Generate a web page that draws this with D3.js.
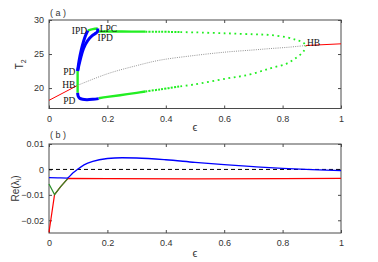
<!DOCTYPE html>
<html><head><meta charset="utf-8">
<script src="https://cdn.jsdelivr.net/npm/d3@7"></script>
<style>body{margin:0;background:#fff}svg{display:block}</style>
</head><body>
<script>
// ---------- data ----------
const epsTicks = [0, 0.2, 0.4, 0.6, 0.8, 1];
const tTicks = [20, 25, 30];
const reTicks = [0.01, 0, -0.01, -0.02];

// panel (a): equilibria
const eqStableLeft = [[0,18.2],[0.098,20.4]];
const eqStableRight = [[0.879,26.25],[1,26.5]];
const eqUnstable = [[0.098,20.4],[0.2,22.1],[0.3,23.3],[0.38,24.1],[0.5,24.8],[0.608,25.3],[0.7,25.6],[0.757,25.8],[0.82,26.0],[0.879,26.25]];
// periodic orbits: stable (green solid), unstable (green dotted), period doubled (blue)
const poVertUp = [[0.098,20.4],[0.098,22.5]];
const poVertDown = [[0.098,20.4],[0.098,19.3]];
const poTopShort = [[0.133,28.45],[0.15,28.65],[0.167,28.75]];
const poUpperSolid = [[0.166,28.3],[0.25,28.3],[0.33,28.29]];
const poUpperDense = [[0.33,28.29],[0.38,28.28],[0.45,28.22]];
const poUpperDotted = [[0.45,28.22],[0.5,28.18],[0.608,28.04],[0.7,27.9],[0.757,27.8],[0.814,27.45],[0.848,27.06],[0.871,26.7],[0.879,26.2]];
const poLowerSolid = [[0.17,18.5],[0.2,18.7],[0.243,18.95],[0.3,19.3],[0.33,19.5]];
const poLowerDense = [[0.33,19.5],[0.38,19.8],[0.45,20.25]];
const poLowerDotted = [[0.45,20.25],[0.494,20.5],[0.608,21.4],[0.688,22.0],[0.757,22.9],[0.814,23.6],[0.848,24.5],[0.871,25.34],[0.879,26.2]];
const pdLeft = [[0.098,22.5],[0.103,24],[0.11,25.5],[0.118,26.8],[0.125,27.7],[0.133,28.45]];
const pdRight = [[0.098,22.5],[0.106,24],[0.118,25.8],[0.133,27],[0.148,27.7],[0.16,28.05],[0.166,28.3],[0.167,28.75]];
const pdLower = [[0.098,19.3],[0.1,18.8],[0.105,18.5],[0.115,18.35],[0.13,18.3],[0.15,18.35],[0.17,18.45]];
const labelsA = [
  {t:"IPD", e:0.134, v:28.4, anchor:"end"},
  {t:"LPC", e:0.17, v:28.75, anchor:"start"},
  {t:"IPD", e:0.163, v:27.4, anchor:"start"},
  {t:"PD", e:0.094, v:22.4, anchor:"end"},
  {t:"HB", e:0.094, v:20.5, anchor:"end"},
  {t:"PD", e:0.094, v:18.2, anchor:"end"},
  {t:"HB", e:0.88, v:26.75, anchor:"start"}
];

// panel (b): real parts of eigenvalues
const reBlue = [[0,-0.0032],[0.03,-0.0033],[0.062,-0.0034],[0.08,-0.0016],[0.097,0],[0.12,0.0018],[0.15,0.0032],[0.2,0.0043],[0.25,0.0046],[0.3,0.0045],[0.4,0.0038],[0.5,0.0028],[0.6,0.0019],[0.7,0.0011],[0.8,0.0004],[0.9,-0.0001],[1,-0.0005]];
const reRed = [[0,-0.0247],[0.019,-0.0099],[0.04,-0.0068],[0.065,-0.0035],[0.2,-0.0036],[0.5,-0.0037],[0.8,-0.0036],[1,-0.0035]];
const reGreen = [[0,-0.0057],[0.019,-0.0099],[0.04,-0.0068],[0.065,-0.0035]];
const zeroLine = [[0,0],[1,0]];

// ---------- drawing ----------
const W = 378, H = 262;
const svg = d3.select("body").append("svg").attr("width", W).attr("height", H);
const L = 49, R = 341;
const x = d3.scaleLinear().domain([0,1]).range([L,R]);
const yA = d3.scaleLinear().domain([17,30]).range([108.5,20]);
const yB = d3.scaleLinear().domain([-0.025,0.01]).range([233,144]);
const sans = "'Liberation Sans', Arial, sans-serif";
const serif = "'Liberation Serif', 'Times New Roman', serif";
const frameCol = "#4a4a4a";

function frame(y, yticks, fmt, top, bottom) {
  const g = svg.append("g");
  g.append("rect").attr("x",L).attr("y",top).attr("width",R-L).attr("height",bottom-top)
    .attr("fill","none").attr("stroke",frameCol).attr("stroke-width",1);
  const bx = d3.axisBottom(x).tickValues(epsTicks).tickSize(3).tickFormat(d=>d3.format("")(d));
  const gx = g.append("g").attr("transform",`translate(0,${bottom})`).call(bx);
  gx.select(".domain").remove();
  gx.selectAll(".tick line").attr("y2",-3).attr("stroke",frameCol);
  gx.selectAll(".tick text").attr("y",7).attr("font-family",sans).attr("font-size",9).attr("fill","#333");
  const tx = g.append("g").attr("transform",`translate(0,${top})`).call(d3.axisTop(x).tickValues(epsTicks).tickSize(0).tickFormat(""));
  tx.select(".domain").remove();
  tx.selectAll(".tick line").attr("y2",3).attr("stroke",frameCol);
  const ly = g.append("g").attr("transform",`translate(${L},0)`).call(d3.axisLeft(y).tickValues(yticks).tickSize(0).tickFormat(fmt));
  ly.select(".domain").remove();
  ly.selectAll(".tick line").attr("x2",3).attr("stroke",frameCol);
  ly.selectAll(".tick text").attr("x",-5).attr("font-family",sans).attr("font-size",9).attr("fill","#333");
  const ry = g.append("g").attr("transform",`translate(${R},0)`).call(d3.axisRight(y).tickValues(yticks).tickSize(0).tickFormat(""));
  ry.select(".domain").remove();
  ry.selectAll(".tick line").attr("x2",-3).attr("stroke",frameCol);
}

const lineA = d3.line().x(d=>x(d[0])).y(d=>yA(d[1])).curve(d3.curveMonotoneX);
const lineAn = d3.line().x(d=>x(d[0])).y(d=>yA(d[1])).curve(d3.curveCatmullRom);
const lineB = d3.line().x(d=>x(d[0])).y(d=>yB(d[1])).curve(d3.curveMonotoneX);
const lineBl = d3.line().x(d=>x(d[0])).y(d=>yB(d[1]));

// panel a
frame(yA, tTicks, d3.format(""), 20, 108.5);
const gA = svg.append("g");
function pathA(data, color, w, dash, gen) {
  const p = gA.append("path").attr("d",(gen||lineAn)(data)).attr("fill","none")
    .attr("stroke",color).attr("stroke-width",w).attr("stroke-linejoin","round");
  if (dash) p.attr("stroke-dasharray",dash);
  return p;
}
pathA(eqUnstable, "#777", 0.8, "1,1.2");
pathA(eqStableLeft, "#ff0000", 1, null, lineA);
pathA(eqStableRight, "#ff0000", 1, null, lineA);
const green = "#22ee22";
pathA(poUpperDotted, green, 1.8, "1.8,3.6");
pathA(poLowerDotted, green, 1.8, "1.8,3.6");
pathA(poUpperDense, green, 2, "2,1.2");
pathA(poLowerDense, green, 2, "2,1.2");
pathA(poUpperSolid, green, 2.4);
pathA(poLowerSolid, green, 2.4);
pathA(poVertUp, green, 2.4, null, d3.line().x(d=>x(d[0])).y(d=>yA(d[1])));
pathA(poVertDown, green, 2.4, null, d3.line().x(d=>x(d[0])).y(d=>yA(d[1])));
pathA(poTopShort, green, 2.4);
pathA(pdLeft, "#0000ff", 3);
pathA(pdRight, "#0000ff", 3);
pathA(pdLower, "#0000ff", 3);
gA.selectAll("text.lab").data(labelsA).join("text").attr("class","lab")
  .attr("x",d=>x(d.e)+(d.anchor==="end"?-1:1)).attr("y",d=>yA(d.v)+3.5)
  .attr("text-anchor",d=>d.anchor).attr("font-family",serif).attr("font-size",9.5).attr("fill","#111")
  .text(d=>d.t);
svg.append("text").attr("x",50).attr("y",16).attr("font-family",sans).attr("font-size",9).attr("fill","#333").text("( a )");
const t2 = svg.append("text").attr("transform",`translate(23,${(20+108.5)/2}) rotate(-90)`)
  .attr("text-anchor","middle").attr("font-family",sans).attr("font-size",10).attr("fill","#333");
t2.append("tspan").text("T");
t2.append("tspan").attr("font-size",7).attr("dy",3).text("2");
svg.append("text").attr("x",195).attr("y",131).attr("text-anchor","middle").attr("font-family",sans)
  .attr("font-size",11).attr("fill","#333").text("ϵ");

// panel b
frame(yB, reTicks, d=>d===0?"0":d3.format("")(d), 144, 233);
const gB = svg.append("g");
gB.append("path").attr("d",lineBl(zeroLine)).attr("fill","none").attr("stroke","#000").attr("stroke-width",1).attr("stroke-dasharray","4,3");
gB.append("path").attr("d",lineBl(reRed)).attr("fill","none").attr("stroke","#ff0000").attr("stroke-width",1.2);
gB.append("path").attr("d",lineBl(reGreen)).attr("fill","none").attr("stroke","#2a8f2a").attr("stroke-width",1.2);
gB.append("path").attr("d",lineB(reBlue)).attr("fill","none").attr("stroke","#0000ff").attr("stroke-width",1.3);
svg.append("text").attr("x",50).attr("y",138).attr("font-family",sans).attr("font-size",9).attr("fill","#333").text("( b )");
const re = svg.append("text").attr("transform",`translate(19,${(144+233)/2}) rotate(-90)`)
  .attr("text-anchor","middle").attr("font-family",sans).attr("font-size",10).attr("fill","#333");
re.append("tspan").text("Re(λ");
re.append("tspan").attr("font-size",7).attr("dy",2).text("i");
re.append("tspan").attr("dy",-2).text(")");
svg.append("text").attr("x",195).attr("y",257).attr("text-anchor","middle").attr("font-family",sans)
  .attr("font-size",11).attr("fill","#333").text("ϵ");
</script>
</body></html>
